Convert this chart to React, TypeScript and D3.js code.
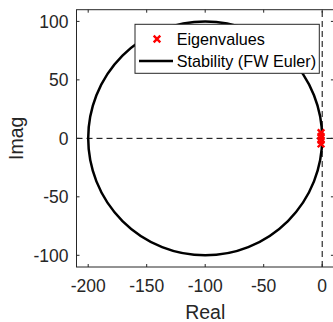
import { useEffect, useRef } from 'react';
import * as d3 from 'd3';

// eigenvalues (real / imaginary parts)
const eigReal = [-1, -1, -1, -1];
const eigImag = [4.8, 1.6, -1.6, -4.8];

// forward Euler stability boundary: circle centre and radius
const stabCenter = [-100, 0];
const stabRadius = 100;

const xTicks = [-200, -150, -100, -50, 0];
const yTicks = [-100, -50, 0, 50, 100];
const xDomain = [-210, 10];
const yDomain = [-110, 110];

const legendLabels = ['Eigenvalues', 'Stability (FW Euler)'];

export default function App() {
  const svgRef = useRef<SVGSVGElement | null>(null);

  useEffect(() => {
    const W = 333;
    const H = 322;
    const margin = { left: 76.5, top: 9.7, right: 333.9, bottom: 267 };
    const axisColor = '#262626';
    const font = 'Arial, "Liberation Sans", Helvetica, sans-serif';

    const svg = d3.select(svgRef.current).attr('width', W).attr('height', H);
    svg.selectAll('*').remove();

    const x = d3.scaleLinear().domain(xDomain).range([margin.left, margin.right]);
    const y = d3.scaleLinear().domain(yDomain).range([margin.bottom, margin.top]);

    svg.append('rect').attr('width', W).attr('height', H).attr('fill', 'white');

    // zero lines (dashed)
    svg.append('line')
      .attr('x1', x(xDomain[0])).attr('x2', x(xDomain[1]))
      .attr('y1', y(0)).attr('y2', y(0))
      .attr('stroke', '#000').attr('stroke-width', 1)
      .attr('stroke-dasharray', '6,4');
    svg.append('line')
      .attr('x1', x(0)).attr('x2', x(0))
      .attr('y1', y(yDomain[0])).attr('y2', y(yDomain[1]))
      .attr('stroke', '#000').attr('stroke-width', 1)
      .attr('stroke-dasharray', '6,4');

    // stability circle
    svg.append('ellipse')
      .attr('cx', x(stabCenter[0]))
      .attr('cy', y(stabCenter[1]))
      .attr('rx', x(stabCenter[0] + stabRadius) - x(stabCenter[0]))
      .attr('ry', y(stabCenter[1]) - y(stabCenter[1] + stabRadius))
      .attr('fill', 'none')
      .attr('stroke', '#000')
      .attr('stroke-width', 2.5);

    // eigenvalue markers
    const cross = (g: any, cx: number, cy: number, s: number) => {
      g.append('path')
        .attr('d', `M${cx - s},${cy - s}L${cx + s},${cy + s}M${cx - s},${cy + s}L${cx + s},${cy - s}`)
        .attr('stroke', '#ff0000')
        .attr('stroke-width', 2.4)
        .attr('fill', 'none');
    };
    const marks = svg.append('g');
    eigReal.forEach((re, i) => cross(marks, x(re), y(eigImag[i]), 3.3));

    // axes box
    svg.append('rect')
      .attr('x', margin.left).attr('y', margin.top)
      .attr('width', margin.right - margin.left)
      .attr('height', margin.bottom - margin.top)
      .attr('fill', 'none').attr('stroke', axisColor).attr('stroke-width', 1);

    const tl = 3;
    const ticks = svg.append('g').attr('stroke', axisColor).attr('stroke-width', 1);
    xTicks.forEach(t => {
      ticks.append('line').attr('x1', x(t)).attr('x2', x(t)).attr('y1', margin.bottom).attr('y2', margin.bottom - tl);
      ticks.append('line').attr('x1', x(t)).attr('x2', x(t)).attr('y1', margin.top).attr('y2', margin.top + tl);
    });
    yTicks.forEach(t => {
      ticks.append('line').attr('x1', margin.left).attr('x2', margin.left + tl).attr('y1', y(t)).attr('y2', y(t));
      ticks.append('line').attr('x1', margin.right).attr('x2', margin.right - tl).attr('y1', y(t)).attr('y2', y(t));
    });

    // tick labels
    svg.append('g').selectAll('text').data(xTicks).enter().append('text')
      .attr('x', d => x(d)).attr('y', 292)
      .attr('text-anchor', 'middle')
      .attr('font-family', font).attr('font-size', 17.5).attr('fill', axisColor)
      .text(d => d);
    svg.append('g').selectAll('text').data(yTicks).enter().append('text')
      .attr('x', 68.5).attr('y', d => y(d) + 6.5)
      .attr('text-anchor', 'end')
      .attr('font-family', font).attr('font-size', 17.5).attr('fill', axisColor)
      .text(d => d);

    // axis labels
    svg.append('text')
      .attr('x', (margin.left + margin.right) / 2).attr('y', 319)
      .attr('text-anchor', 'middle')
      .attr('font-family', font).attr('font-size', 19.5).attr('fill', axisColor)
      .text('Real');
    svg.append('text')
      .attr('transform', `translate(23,${(margin.top + margin.bottom) / 2}) rotate(-90)`)
      .attr('text-anchor', 'middle')
      .attr('font-family', font).attr('font-size', 19.5).attr('fill', axisColor)
      .text('Imag');

    // legend
    const lg = svg.append('g');
    lg.append('rect')
      .attr('x', 135).attr('y', 24.3).attr('width', 184.3).attr('height', 49)
      .attr('fill', 'white').attr('stroke', axisColor).attr('stroke-width', 1);
    cross(lg, 157, 39, 3.3);
    lg.append('line').attr('x1', 139).attr('x2', 173).attr('y1', 61).attr('y2', 61)
      .attr('stroke', '#000').attr('stroke-width', 2.5);
    legendLabels.forEach((lab, i) => {
      lg.append('text')
        .attr('x', 176.7).attr('y', 44.5 + i * 22)
        .attr('font-family', font).attr('font-size', 16.2).attr('fill', '#000')
        .text(lab);
    });
  }, []);

  return (
    <svg ref={svgRef} style={{ position: 'absolute', left: 0, top: 0, display: 'block' }} />
  );
}
